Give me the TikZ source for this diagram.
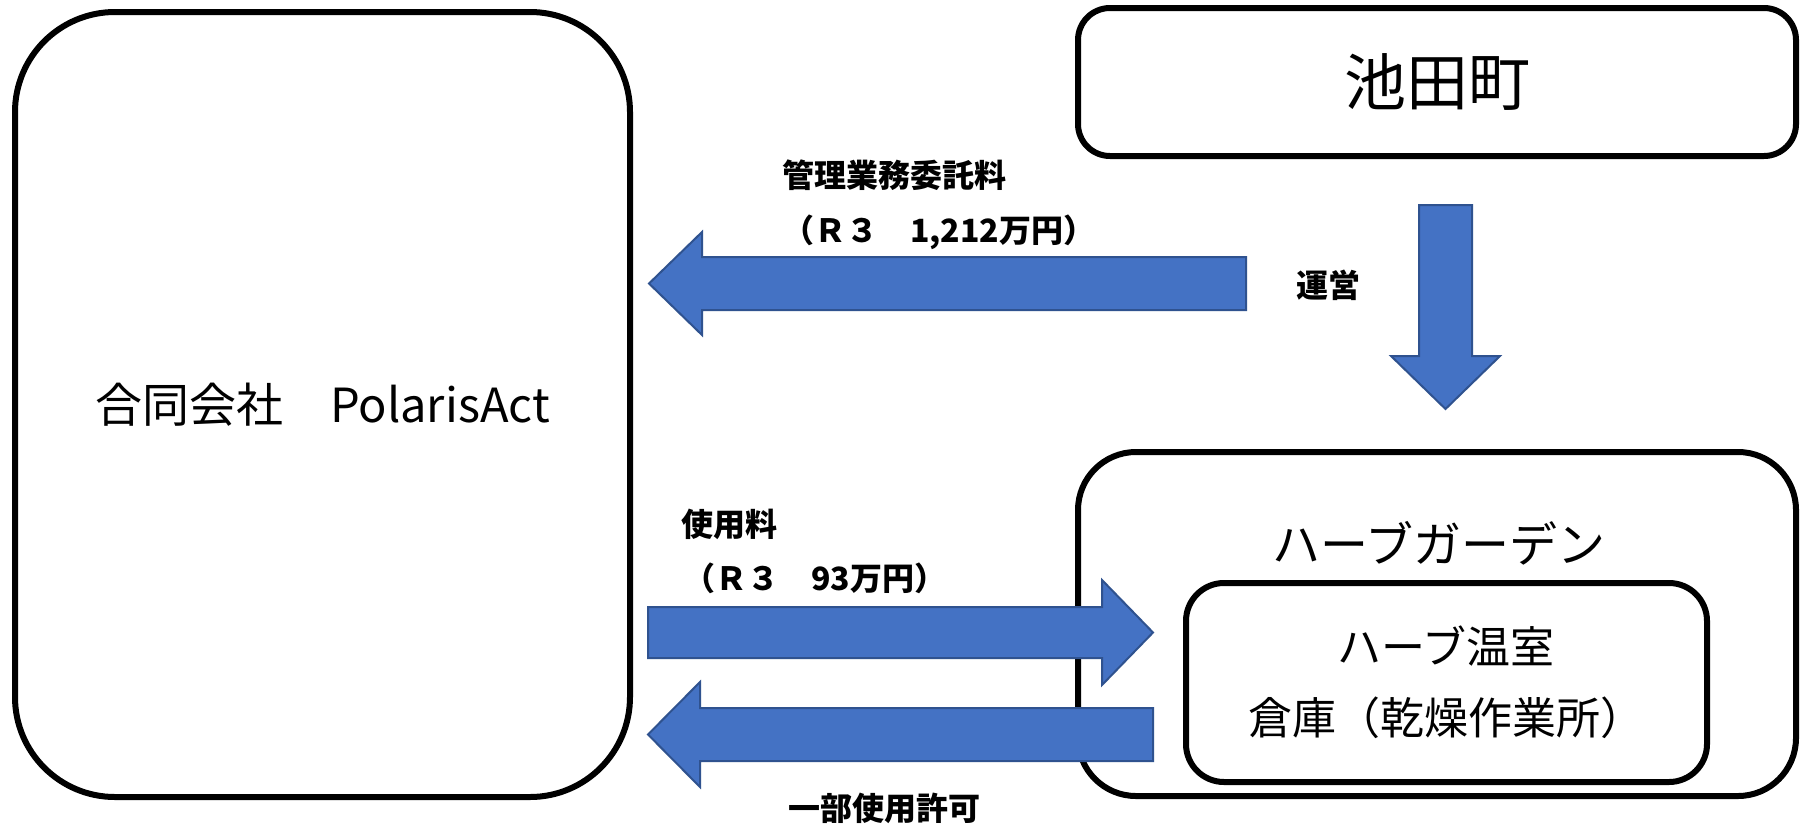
\documentclass[tikz,border=0pt]{standalone}
\usepackage{fontspec}
\setmainfont{Noto Sans CJK JP}
\definecolor{arrowblue}{HTML}{4472C4}
\definecolor{arrowedge}{HTML}{2F528F}
\begin{document}
\begin{tikzpicture}[x=1pt,y=-1pt,
  box/.style={draw=black,line width=6pt,fill=white,inner sep=0pt,outer sep=0pt},
  barrow/.style={fill=arrowblue,draw=arrowedge,line width=2pt,line join=miter},
  lbl/.style={inner sep=0pt,font=\fontsize{32}{38}\selectfont\bfseries},
  bigtxt/.style={inner sep=0pt}]
\useasboundingbox[fill=white] (0,0) rectangle (1801,823);
% boxes
\node[box,rounded corners=100pt,minimum width=615pt,minimum height=785pt,
      font=\fontsize{47}{56}\selectfont] (corp) at (322.5,404.5) {合同会社　PolarisAct};
\node[box,rounded corners=32pt,minimum width=718pt,minimum height=148pt,
      font=\fontsize{62}{72}\selectfont] (town) at (1437,82) {池田町};
\node[box,rounded corners=58pt,minimum width=718pt,minimum height=344pt] (garden) at (1437,624) {};
\node[bigtxt,font=\fontsize{48}{56}\selectfont] (gardenlbl) at (1439,543) {ハーブガーデン};
\node[box,rounded corners=38pt,minimum width=521pt,minimum height=199pt] (inner) at (1446.5,682.5) {};
\node[bigtxt,font=\fontsize{44}{52}\selectfont] (greenhouse) at (1446,646) {ハーブ温室};
\node[bigtxt,font=\fontsize{44}{52}\selectfont] (storage) at (1446,718) {倉庫（乾燥作業所）};
% block arrows
\draw[barrow] (1246,257) -- (702,257) -- (702,232) -- (649,283.5) -- (702,335) -- (702,310) -- (1246,310) -- cycle;
\draw[barrow] (1419,205) -- (1472,205) -- (1472,356) -- (1500,356) -- (1445.5,409) -- (1391,356) -- (1419,356) -- cycle;
\draw[barrow] (648,607) -- (1102,607) -- (1102,580) -- (1153,632.5) -- (1102,685) -- (1102,658) -- (648,658) -- cycle;
\draw[barrow] (1153,708) -- (700,708) -- (700,682) -- (648,734.5) -- (700,787) -- (700,761) -- (1153,761) -- cycle;
% labels
\node[lbl,anchor=west] (feeA) at (782,175) {管理業務委託料};
\node[lbl,anchor=west] (feeB) at (782,232) {（Ｒ３　1,212万円）};
\node[lbl] (oper) at (1328,285) {運営};
\node[lbl,anchor=west] (useA) at (681,524) {使用料};
\node[lbl,anchor=west] (useB) at (683,578) {（Ｒ３　93万円）};
\node[lbl] (permit) at (884,808) {一部使用許可};
\end{tikzpicture}
\end{document}
